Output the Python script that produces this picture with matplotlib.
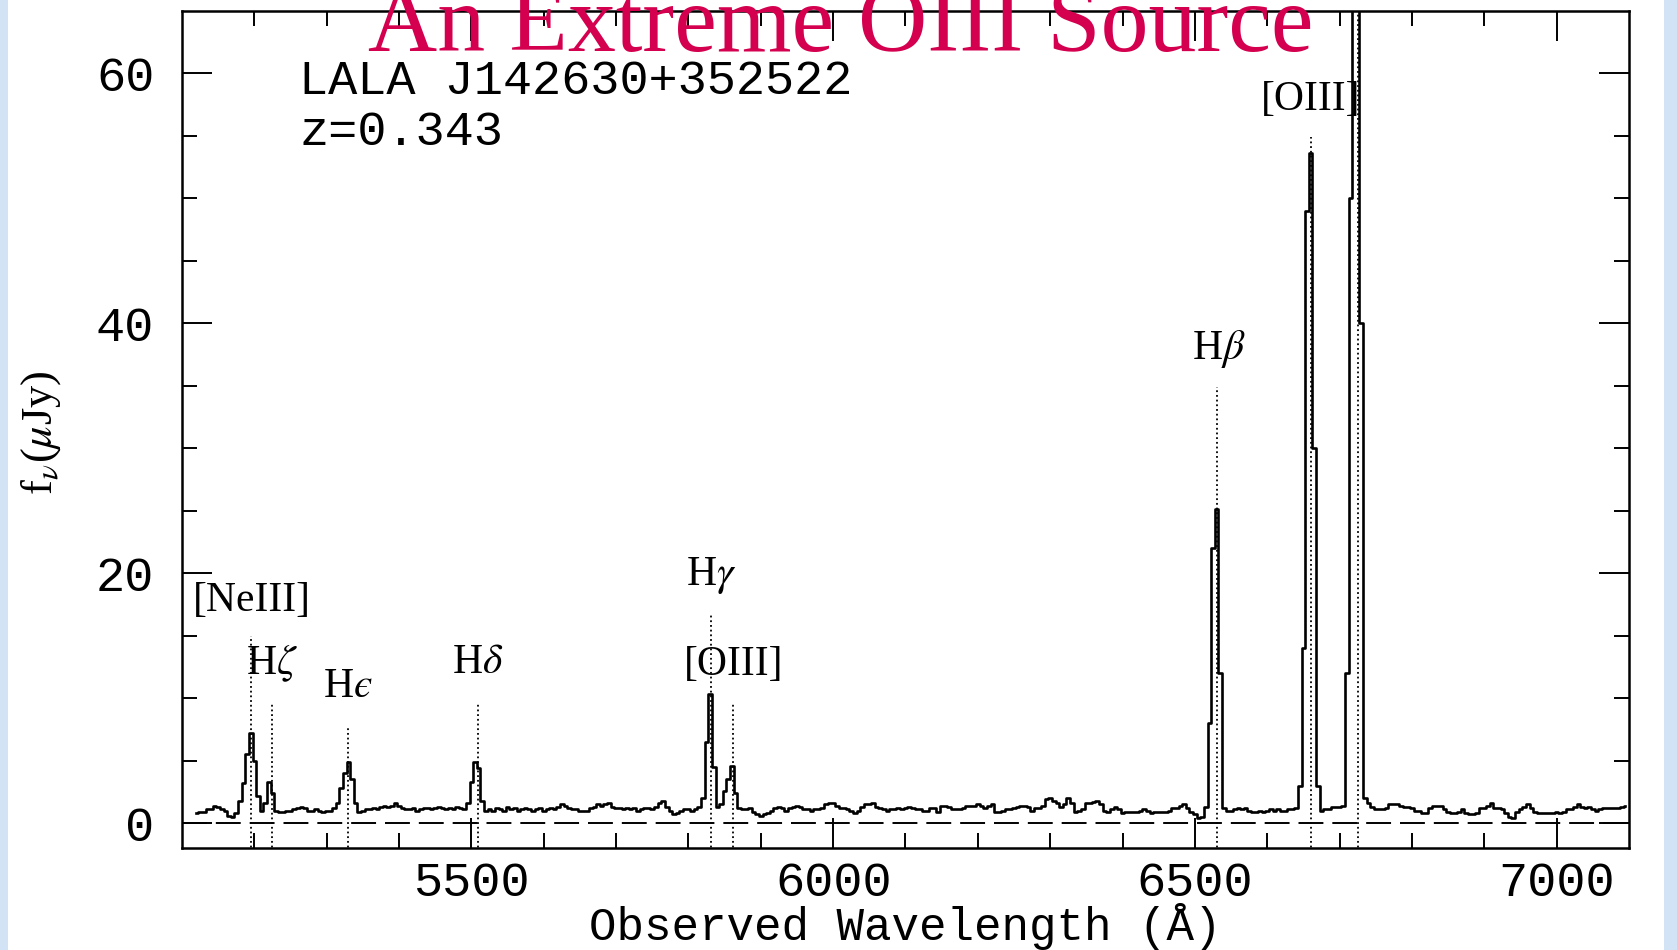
import numpy as np
import matplotlib
matplotlib.use("Agg")
import matplotlib.pyplot as plt
from matplotlib.patches import Rectangle

plt.rcParams['mathtext.fontset'] = 'stix'

# ---------------- data ----------------
wave_start = 5120.0
wave_step = 5.0
flux = [
    0.8, 0.9, 0.9, 1.1, 1.1, 1.4, 1.3, 1.1, 1.0, 0.6,      # 5120
    0.5, 0.8, 1.8, 3.2, 5.5, 7.2, 5.0, 2.2, 1.0, 1.6,      # 5170
    3.3, 2.4, 1.0, 0.9, 0.9, 1.0, 1.0, 1.1, 1.2, 1.3,      # 5220
    1.2, 1.0, 1.0, 1.1, 1.0, 0.9, 1.0, 1.0, 1.2, 1.6,      # 5270
    2.8, 4.0, 4.9, 3.5, 1.6, 0.9, 1.0, 1.1, 1.1, 1.2,      # 5320
    1.1, 1.3, 1.4, 1.3, 1.4, 1.6, 1.4, 1.2, 1.1, 1.1,      # 5370
    1.2, 1.0, 1.1, 1.2, 1.2, 1.1, 1.2, 1.3, 1.2, 1.1,      # 5420
    1.2, 1.1, 1.3, 1.2, 1.1, 1.6, 3.3, 4.9, 4.4, 1.8,      # 5470
    1.0, 1.1, 1.0, 1.2, 1.1, 1.0, 1.3, 1.1, 1.2, 1.0,      # 5520
    1.1, 1.2, 1.1, 1.0, 1.1, 1.2, 1.0, 1.1, 1.2, 1.1,      # 5570
    1.3, 1.5, 1.4, 1.2, 1.1, 1.1, 1.0, 1.0, 1.0, 1.2,      # 5620
    1.3, 1.5, 1.4, 1.5, 1.6, 1.3, 1.2, 1.2, 1.1, 1.2,      # 5670
    1.1, 1.2, 1.0, 1.1, 1.2, 1.2, 1.1, 1.3, 1.6, 1.8,      # 5720
    1.3, 1.0, 0.7, 0.8, 1.0, 1.1, 1.1, 1.0, 1.1, 1.3,      # 5770
    2.0, 6.5, 10.3, 4.5, 1.3, 1.5, 2.6, 3.5, 4.6, 2.4,     # 5820
    1.2, 1.1, 1.1, 1.2, 0.9, 0.7, 0.6, 0.7, 0.8, 1.0,      # 5870
    1.2, 1.3, 1.2, 1.0, 1.2, 1.3, 1.4, 1.3, 1.1, 1.1,      # 5920
    1.0, 1.1, 1.1, 1.2, 1.5, 1.6, 1.6, 1.4, 1.2, 1.2,      # 5970
    1.1, 1.0, 0.8, 1.0, 1.3, 1.5, 1.5, 1.6, 1.3, 1.2,      # 6020
    1.1, 1.0, 1.1, 1.1, 1.2, 1.1, 1.2, 1.3, 1.2, 1.1,      # 6070
    1.1, 1.0, 1.0, 1.2, 1.2, 0.9, 1.35, 1.35, 1.3, 1.1,    # 6120
    1.1, 1.1, 1.2, 1.35, 1.35, 1.4, 1.55, 1.4, 1.2, 1.4,   # 6170
    1.5, 0.9, 0.9, 1.0, 1.1, 1.1, 1.2, 1.3, 1.35, 1.4,     # 6220
    1.3, 1.0, 1.2, 1.2, 1.4, 1.9, 2.0, 1.8, 1.6, 1.3,      # 6270
    1.5, 2.0, 1.6, 0.9, 1.0, 1.1, 1.6, 1.6, 1.7, 1.75,     # 6320
    1.5, 1.0, 0.9, 1.1, 1.3, 1.1, 0.8, 0.9, 0.9, 0.9,      # 6370
    0.9, 1.0, 1.1, 1.0, 0.8, 0.9, 0.9, 0.9, 0.9, 1.0,      # 6420
    1.2, 1.2, 1.4, 1.5, 1.2, 0.9, 0.7, 0.4, 0.5, 1.3,      # 6470
    8.0, 22.0, 25.1, 12.0, 1.2, 1.0, 1.0, 1.1, 1.2, 1.1,   # 6520
    1.2, 1.0, 0.9, 0.9, 1.0, 0.9, 1.0, 1.1, 1.0, 1.1,      # 6570
    1.0, 1.0, 1.1, 1.1, 1.2, 3.0, 14.0, 49.0, 53.6, 30.0,  # 6620
    3.0, 1.0, 1.1, 1.1, 1.3, 1.3, 1.3, 1.4, 12.0, 50.0,    # 6670
    150.0, 120.0, 40.0, 2.0, 1.6, 1.3, 1.1, 1.1, 1.1, 1.2, # 6720
    1.5, 1.5, 1.5, 1.4, 1.3, 1.3, 1.2, 1.0, 1.0, 0.8,      # 6770
    0.8, 1.2, 1.4, 1.4, 1.4, 1.1, 0.9, 0.8, 0.8, 0.9,      # 6820
    1.1, 0.8, 0.7, 0.7, 0.8, 1.2, 1.2, 1.4, 1.6, 1.2,      # 6870
    1.2, 1.1, 0.8, 0.5, 0.4, 0.9, 1.1, 1.3, 1.5, 1.2,      # 6920
    0.9, 0.8, 0.8, 0.8, 0.8, 0.8, 0.9, 0.8, 0.9, 1.1,      # 6970
    1.1, 1.3, 1.5, 1.3, 1.2, 1.3, 1.1, 1.0, 1.1, 1.2,      # 7020
    1.2, 1.2, 1.2, 1.2, 1.3, 1.35,                         # 7070
]

line_wave = [5196, 5224, 5330, 5509, 5831, 5861, 6531, 6661, 6726]
line_top = [15.0, 9.7, 7.8, 9.7, 16.8, 9.7, 34.9, 54.9, 70.0]

label_text = ['[NeIII]', r'H$\zeta$', 'H$\u03f5$', r'H$\delta$', r'H$\gamma$',
              '[OIII]', r'H$\beta$', '[OIII]']
label_x = [5196, 5224, 5329, 5509, 5832, 5862, 6533, 6660]
label_y = [17.8, 12.8, 10.9, 12.8, 19.8, 12.7, 37.9, 57.9]

x_ticks = [5500, 6000, 6500, 7000]
y_ticks = [0, 20, 40, 60]

title = "An Extreme OIII Source"
object_name = "LALA J142630+352522"
redshift_text = "z=0.343"

# ---------------- figure ----------------
W, H = 1677, 950
fig = plt.figure(figsize=(W / 100, H / 100), dpi=100)
fig.patch.set_facecolor('white')
fig.patches.append(Rectangle((0, 0), 8 / W, 1, transform=fig.transFigure,
                             facecolor='#d3e3f6', edgecolor='none', zorder=-5))
fig.patches.append(Rectangle((1664 / W, 0), 13 / W, 1, transform=fig.transFigure,
                             facecolor='#d3e3f6', edgecolor='none', zorder=-5))

ax = fig.add_axes([182 / W, 1 - 848 / H, (1629 - 182) / W, (848 - 10.7) / H])

wave = wave_start + wave_step * np.arange(len(flux))
ax.plot(wave, flux, drawstyle='steps-mid', color='black', lw=1.9, zorder=3)

ax.axhline(0, color='black', lw=1.4, ls=(0, (12.8, 4.6)), zorder=2)

for w, t in zip(line_wave, line_top):
    ax.plot([w, w], [-5, t], color='black', lw=1.3, ls=(0, (1, 1.6)), zorder=2)

for t, x, y in zip(label_text, label_x, label_y):
    ax.text(x, y, t, ha='center', va='center', fontsize=30,
            family='Liberation Serif', color='black')

ax.set_xlim(5100, 7100)
ax.set_ylim(-2, 65)

ax.set_xticks(x_ticks)
ax.set_xticks(np.arange(5200, 7100, 100), minor=True)
ax.set_yticks(y_ticks)
ax.set_yticks(np.arange(0, 65, 5), minor=True)

ax.tick_params(which='both', direction='in', top=True, right=True,
               width=1.4, colors='black')
ax.tick_params(which='major', length=21.5)
ax.tick_params(which='minor', length=11)
ax.tick_params(axis='y', which='major', pad=20)
ax.tick_params(axis='x', which='major', pad=9)
for lab in ax.get_xticklabels() + ax.get_yticklabels():
    lab.set_family('Liberation Mono')
    lab.set_fontsize(35)
for s in ax.spines.values():
    s.set_linewidth(1.8)

ax.text(0.0812, 0.915, object_name, transform=ax.transAxes, ha='left', va='center',
        fontsize=35, family='Liberation Mono')
ax.text(0.0812, 0.854, redshift_text, transform=ax.transAxes, ha='left', va='center',
        fontsize=35, family='Liberation Mono')

ax.text(0.5, (848 - 926) / (848 - 10.7), "Observed Wavelength (Å)",
        transform=ax.transAxes, ha='center', va='center', fontsize=33,
        family='Liberation Mono')

fig.text(40.6 / W, 1 - 433 / H, r'f$_{\nu}$($\mu$Jy)', rotation=90,
         ha='center', va='center', fontsize=32, family='Liberation Serif')

fig.text(841 / W, 1 - 51 / H, title, ha='center', va='baseline',
         fontsize=69, family='Liberation Serif', color='#d4004f', zorder=10)

fig.savefig('out.png', dpi=100)
